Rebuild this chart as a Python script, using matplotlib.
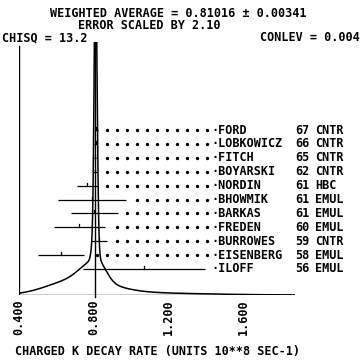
import numpy as np
import matplotlib
matplotlib.use('Agg')
import matplotlib.pyplot as plt

# Charged K decay rate measurements (units 10**8 sec-1)
NAMES = ['FORD', 'LOBKOWICZ', 'FITCH', 'BOYARSKI', 'NORDIN', 'BHOWMIK',
         'BARKAS', 'FREDEN', 'BURROWES', 'EISENBERG', 'ILOFF']
YEARS = ['67', '66', '65', '62', '61', '61', '61', '60', '59', '58', '56']
METHODS = ['CNTR', 'CNTR', 'CNTR', 'CNTR', 'HBC', 'EMUL',
           'EMUL', 'EMUL', 'CNTR', 'EMUL', 'EMUL']
RATES = [0.815, 0.812, 0.808, 0.809, 0.766, 0.792,
         0.803, 0.723, 0.829, 0.627, 1.069]
ERRORS = [0.007, 0.007, 0.006, 0.012, 0.056, 0.181,
          0.125, 0.136, 0.042, 0.123, 0.325]

AVG = 0.81016
AVG_ERR = 0.00341
ERR_SCALE = 2.10
CHISQ = 13.2
CONLEV = 0.004

TICKS = [0.4, 0.8, 1.2, 1.6]
TICK_LABELS = ['0.400', '0.800', '1.200', '1.600']

W, H = 361, 360
PX = 187.5          # pixels per unit of rate
X0 = 0.4
XMAX = X0 + (295 - 18.5) / PX
YTOP = 253
ROW0 = 165
ROW_STEP = 13.9
CURVE_SCALE = 0.62

FONT = dict(family='DejaVu Sans Mono', weight='bold', size=8.5)


def px2x(p):
    return X0 + (p - 18.5) / PX


fig = plt.figure(figsize=(W / 100, H / 100), dpi=100)
ax = fig.add_axes([18.5 / W, (H - 295) / H, (295 - 18.5) / W, 253 / H])
ax.set_xlim(X0, XMAX)
ax.set_ylim(0, YTOP)
for s in ax.spines.values():
    s.set_visible(False)
ax.set_yticks([])

# ideogram: one gaussian per measurement, height ~ 1/error
rates = np.array(RATES)
errs = np.array(ERRORS)
xs = np.linspace(X0, XMAX, 4000)
ideo = (np.exp(-(xs[:, None] - rates) ** 2 / (2 * errs ** 2)) / errs).sum(axis=1)
ax.plot(xs, ideo * CURVE_SCALE, color='black', lw=1.1)

ax.axhline(0, color='black', lw=1.0)
ax.axvline(X0, ymax=0.985, color='black', lw=1.0)
ax.axvline(AVG, ymin=-0.008, color='black', lw=1.0, clip_on=False)

# dotted leaders run on a fixed grid towards the labels
grid = px2x(207) - np.arange(0, 30) * (10 / PX)

for i, (name, yr, meth, r, e) in enumerate(zip(NAMES, YEARS, METHODS, RATES, ERRORS)):
    y = ROW0 - ROW_STEP * i
    lo, hi = r - e, r + e
    ax.plot([lo, hi], [y, y], color='black', lw=0.9, solid_capstyle='butt')
    ax.plot([r, r], [y, y + 3], color='black', lw=0.9)
    dots = grid[(grid > hi + 3 / PX) & (grid > X0)]
    ax.plot(dots, np.full(len(dots), y), ls='none', marker='o', ms=1.4,
            color='black')
    ax.text(px2x(211), y, '\u00b7' + name, ha='left', va='center', **FONT)
    ax.text(px2x(295), y, yr, ha='left', va='center', **FONT)
    ax.text(px2x(315), y, meth, ha='left', va='center', **FONT)

ax.set_xticks(TICKS)
ax.set_xticklabels(TICK_LABELS, rotation=90, **FONT)
ax.tick_params(axis='x', length=0, pad=3.5)

fig.text(178.5 / W, 1 - 13.5 / H,
         'WEIGHTED AVERAGE = {:.5f} \u00b1 {:.5f}'.format(AVG, AVG_ERR),
         ha='center', va='center', **FONT)
fig.text(149.5 / W, 1 - 25.5 / H, 'ERROR SCALED BY {:.2f}'.format(ERR_SCALE),
         ha='center', va='center', **FONT)
fig.text(2 / W, 1 - 37.5 / H, 'CHISQ = {:.1f}'.format(CHISQ),
         ha='left', va='center', **FONT)
fig.text(360 / W, 1 - 37.5 / H, 'CONLEV = {:.3f}'.format(CONLEV),
         ha='right', va='center', **FONT)
fig.text(15 / W, 1 - 352 / H, 'CHARGED K DECAY RATE (UNITS 10**8 SEC-1)',
         ha='left', va='center', **FONT)

fig.savefig('out.png', dpi=100)
